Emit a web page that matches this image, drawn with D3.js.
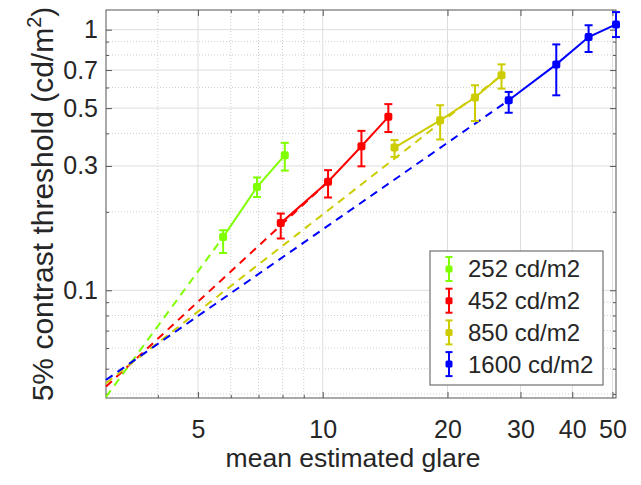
<!DOCTYPE html>
<html>
<head>
<meta charset="utf-8">
<script src="https://cdn.jsdelivr.net/npm/d3@7"></script>
<style>
  html, body { margin: 0; padding: 0; background: #ffffff; }
  svg { display: block; }
  text { font-family: "Liberation Sans", Arial, sans-serif; fill: #262626; }
</style>
</head>
<body>
<svg id="chart" width="641" height="485"></svg>
<script>
// ---------------- data ----------------
const seriesNames = ["252 cd/m2", "452 cd/m2", "850 cd/m2", "1600 cd/m2"];
const seriesColors = ["#80ff00", "#ff0000", "#cccc00", "#0000ff"];

const greenX = [5.75, 6.94, 8.10];
const greenY = [0.160, 0.249, 0.330];
const greenLo = [0.139, 0.228, 0.288];
const greenHi = [0.170, 0.271, 0.368];

const redX = [7.92, 10.3, 12.4, 14.4];
const redY = [0.181, 0.261, 0.357, 0.463];
const redLo = [0.158, 0.227, 0.299, 0.405];
const redHi = [0.197, 0.289, 0.409, 0.518];

const yellowX = [14.9, 19.2, 23.3, 27.0];
const yellowY = [0.353, 0.449, 0.549, 0.668];
const yellowLo = [0.325, 0.379, 0.446, 0.594];
const yellowHi = [0.377, 0.513, 0.612, 0.736];

const blueX = [28.1, 36.6, 43.8, 51.0];
const blueY = [0.536, 0.736, 0.937, 1.048];
const blueLo = [0.480, 0.560, 0.821, 0.937];
const blueHi = [0.577, 0.878, 1.040, 1.168];

// dashed power-law fit lines (start and end points)
const fitX = [[3, 5.75], [3, 10.3], [3, 27.0], [3, 28.1]];
const fitY = [[0.039, 0.160], [0.0427, 0.261], [0.044, 0.668], [0.0453, 0.536]];

const xDomain = [3, 51];
const yDomain = [0.0386, 1.19];
const xMajorTicks = [5, 10, 20, 30, 40, 50];
const xMinorTicks = [4, 6, 7, 8, 9];
const yMajorTicks = [0.1, 0.3, 0.5, 0.7, 1];
const yMinorTicks = [0.04, 0.05, 0.06, 0.07, 0.08, 0.09, 0.2, 0.4, 0.6, 0.8, 0.9];
const xTickLabels = ["5", "10", "20", "30", "40", "50"];
const yTickLabels = ["0.1", "0.3", "0.5", "0.7", "1"];

const xLabel = "mean estimated glare";
const yLabelMain = "5% contrast threshold (cd/m";
const yLabelSup = "2";
const yLabelEnd = ")";

// ---------------- layout ----------------
const L = 106, R = 616, T = 10, B = 398;
const svg = d3.select("#chart");
const x = d3.scaleLog().domain(xDomain).range([L, R]);
const y = d3.scaleLog().domain(yDomain).range([B, T]);

const series = [
  {x: greenX, y: greenY, lo: greenLo, hi: greenHi},
  {x: redX, y: redY, lo: redLo, hi: redHi},
  {x: yellowX, y: yellowY, lo: yellowLo, hi: yellowHi},
  {x: blueX, y: blueY, lo: blueLo, hi: blueHi}
].map((s, i) => ({...s, name: seriesNames[i], color: seriesColors[i],
  pts: s.x.map((v, j) => ({x: v, y: s.y[j], lo: s.lo[j], hi: s.hi[j]}))}));

// ---------------- grid ----------------
const grid = svg.append("g");
grid.selectAll(".gxm").data(xMinorTicks).join("line")
  .attr("x1", d => x(d)).attr("x2", d => x(d)).attr("y1", T).attr("y2", B)
  .attr("stroke", "#cfcfcf").attr("stroke-width", 1).attr("stroke-dasharray", "1,2");
grid.selectAll(".gym").data(yMinorTicks).join("line")
  .attr("y1", d => y(d)).attr("y2", d => y(d)).attr("x1", L).attr("x2", R)
  .attr("stroke", "#cfcfcf").attr("stroke-width", 1).attr("stroke-dasharray", "1,2");
grid.selectAll(".gxM").data(xMajorTicks).join("line")
  .attr("x1", d => x(d)).attr("x2", d => x(d)).attr("y1", T).attr("y2", B)
  .attr("stroke", "#dedede").attr("stroke-width", 1);
grid.selectAll(".gyM").data(yMajorTicks).join("line")
  .attr("y1", d => y(d)).attr("y2", d => y(d)).attr("x1", L).attr("x2", R)
  .attr("stroke", "#dedede").attr("stroke-width", 1);

// ---------------- axes ----------------
const axisColor = "#555555";
function styleAxis(g) {
  g.select(".domain").remove();
  g.selectAll(".tick line").attr("stroke", axisColor);
  g.selectAll("text").style("font-size", "25px").attr("fill", "#262626")
    .style("font-family", "'Liberation Sans', Arial, sans-serif");
}
svg.append("g").attr("transform", `translate(0,${B})`)
  .call(d3.axisBottom(x).tickValues(xMajorTicks).tickSize(-6).tickPadding(22)
    .tickFormat((d, i) => xTickLabels[i]))
  .call(styleAxis);
svg.append("g").attr("transform", `translate(0,${B})`)
  .call(d3.axisBottom(x).tickValues(xMinorTicks).tickSize(-3).tickFormat(""))
  .call(styleAxis);
svg.append("g").attr("transform", `translate(0,${T})`)
  .call(d3.axisTop(x).tickValues(xMajorTicks).tickSize(-6).tickFormat(""))
  .call(styleAxis);
svg.append("g").attr("transform", `translate(0,${T})`)
  .call(d3.axisTop(x).tickValues(xMinorTicks).tickSize(-3).tickFormat(""))
  .call(styleAxis);
svg.append("g").attr("transform", `translate(${L},0)`)
  .call(d3.axisLeft(y).tickValues(yMajorTicks).tickSize(-6).tickPadding(8)
    .tickFormat((d, i) => yTickLabels[i]))
  .call(styleAxis);
svg.append("g").attr("transform", `translate(${L},0)`)
  .call(d3.axisLeft(y).tickValues(yMinorTicks).tickSize(-3).tickFormat(""))
  .call(styleAxis);
svg.append("g").attr("transform", `translate(${R},0)`)
  .call(d3.axisRight(y).tickValues(yMajorTicks).tickSize(-6).tickFormat(""))
  .call(styleAxis);
svg.append("g").attr("transform", `translate(${R},0)`)
  .call(d3.axisRight(y).tickValues(yMinorTicks).tickSize(-3).tickFormat(""))
  .call(styleAxis);

// frame
svg.append("rect").attr("x", L).attr("y", T).attr("width", R - L).attr("height", B - T)
  .attr("fill", "none").attr("stroke", axisColor).attr("stroke-width", 1);

// ---------------- axis labels ----------------
svg.append("text").attr("x", 353).attr("y", 467).attr("text-anchor", "middle")
  .style("font-size", "26.5px").text(xLabel);
const yl = svg.append("text").attr("transform", "translate(53,204) rotate(-90)")
  .attr("text-anchor", "middle").style("font-size", "30px");
yl.append("tspan").text(yLabelMain);
yl.append("tspan").attr("dy", -12).style("font-size", "20px").text(yLabelSup);
yl.append("tspan").attr("dy", 12).text(yLabelEnd);

// ---------------- fits (dashed) ----------------
const line = d3.line().x(d => x(d[0])).y(d => y(d[1]));
svg.append("g").selectAll("path").data(fitX.map((fx, i) => fx.map((v, j) => [v, fitY[i][j]])))
  .join("path").attr("d", line).attr("fill", "none")
  .attr("stroke", (d, i) => seriesColors[i]).attr("stroke-width", 2)
  .attr("stroke-dasharray", "8,6");

// ---------------- series ----------------
const cap = 4;
const gS = svg.append("g").selectAll("g").data(series).join("g");
gS.append("path").attr("d", s => line(s.pts.map(p => [p.x, p.y]))).attr("fill", "none")
  .attr("stroke", s => s.color).attr("stroke-width", 2);
gS.each(function(s) {
  const g = d3.select(this);
  const e = g.selectAll(".eb").data(s.pts).join("g");
  e.append("line").attr("x1", p => x(p.x)).attr("x2", p => x(p.x))
    .attr("y1", p => y(p.lo)).attr("y2", p => y(p.hi))
    .attr("stroke", s.color).attr("stroke-width", 2);
  e.append("line").attr("x1", p => x(p.x) - cap).attr("x2", p => x(p.x) + cap)
    .attr("y1", p => y(p.lo)).attr("y2", p => y(p.lo))
    .attr("stroke", s.color).attr("stroke-width", 2);
  e.append("line").attr("x1", p => x(p.x) - cap).attr("x2", p => x(p.x) + cap)
    .attr("y1", p => y(p.hi)).attr("y2", p => y(p.hi))
    .attr("stroke", s.color).attr("stroke-width", 2);
  e.append("rect").attr("x", p => x(p.x) - 4).attr("y", p => y(p.y) - 4)
    .attr("width", 8).attr("height", 8).attr("rx", 2).attr("fill", s.color);
});

// ---------------- legend ----------------
const lg = svg.append("g");
lg.append("rect").attr("x", 430).attr("y", 251).attr("width", 173).attr("height", 134)
  .attr("fill", "#ffffff").attr("stroke", axisColor).attr("stroke-width", 1);
const items = lg.selectAll(".li").data(series).join("g")
  .attr("transform", (d, i) => `translate(0,${269 + i * 31.7})`);
items.append("line").attr("x1", 449).attr("x2", 449).attr("y1", -12).attr("y2", 12)
  .attr("stroke", d => d.color).attr("stroke-width", 2);
items.append("line").attr("x1", 445.5).attr("x2", 452.5).attr("y1", -12).attr("y2", -12)
  .attr("stroke", d => d.color).attr("stroke-width", 2);
items.append("line").attr("x1", 445.5).attr("x2", 452.5).attr("y1", 12).attr("y2", 12)
  .attr("stroke", d => d.color).attr("stroke-width", 2);
items.append("rect").attr("x", 445.5).attr("y", -3.5).attr("width", 7).attr("height", 7)
  .attr("rx", 1.5).attr("fill", d => d.color);
items.append("text").attr("x", 468).attr("y", 0).attr("dy", "0.35em")
  .style("font-size", "24px").text(d => d.name);
</script>
</body>
</html>
